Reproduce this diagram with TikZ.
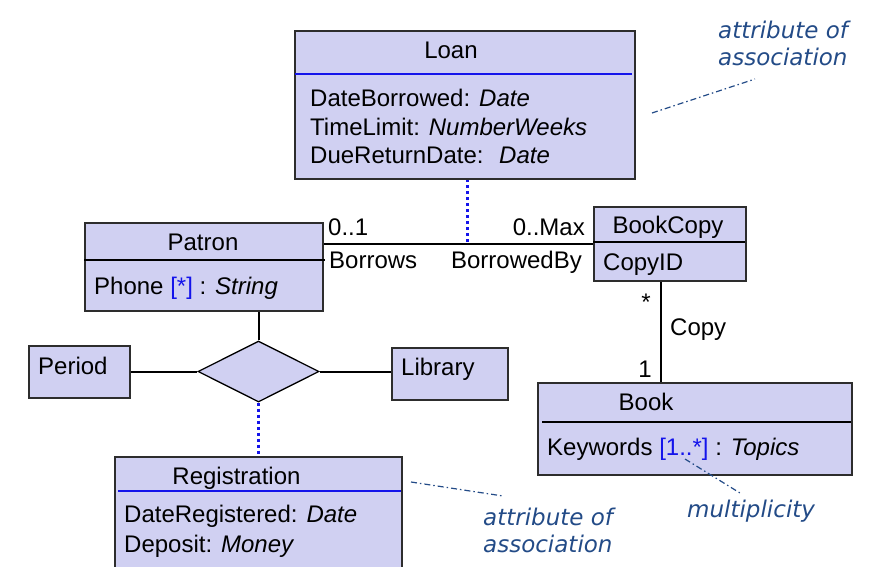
\documentclass[tikz,border=0pt]{standalone}
\usepackage{fontspec}
\setmainfont{Liberation Sans}
\newfontfamily\annfont{DejaVu Sans}
\usetikzlibrary{shapes.geometric}
\definecolor{boxfill}{RGB}{208,208,242}
\definecolor{boxline}{RGB}{45,45,45}
\definecolor{sepblue}{RGB}{20,20,235}
\definecolor{annblue}{RGB}{35,75,135}
\begin{document}
\begin{tikzpicture}[x=1pt,y=-1pt,
  box/.style={draw=boxline, line width=2pt, fill=boxfill, anchor=north west, inner sep=0pt},
  txt/.style={font=\fontsize{24}{29}\selectfont, inner sep=0pt},
  sep/.style={line width=2pt},
  conn/.style={line width=2pt, black},
  dots/.style={line width=3pt, sepblue, dash pattern=on 3pt off 3pt},
  ann/.style={font=\annfont\itshape\fontsize{23}{27}\selectfont, text=annblue, inner sep=0pt},
  annline/.style={annblue, line width=1.2pt, dash pattern=on 6pt off 3pt on 1.5pt off 3pt}]
\useasboundingbox (0,0) rectangle (880,566);
\clip (0,0) rectangle (880,566);

% boxes
\node[box, minimum width=340pt, minimum height=148pt] (loan) at (294,30) {};
\node[box, minimum width=238pt, minimum height=88pt] (patron) at (84,222) {};
\node[box, minimum width=152pt, minimum height=74pt] (bookcopy) at (593,206) {};
\node[box, minimum width=314pt, minimum height=92pt] (book) at (537,382) {};
\node[box, minimum width=101pt, minimum height=52pt] (period) at (28,345) {};
\node[box, minimum width=116pt, minimum height=52pt] (library) at (391,347) {};
\node[box, minimum width=287pt, minimum height=130pt] (reg) at (114,456) {};
\node[draw=black, line width=1.3pt, fill=boxfill, diamond, minimum width=121pt, minimum height=61pt, inner sep=0pt] (assoc) at (258.5,371.5) {};

% separators
\draw[sep, sepblue] (295,74) -- (632,74);
\draw[sep, black] (84,260) -- (325,260);
\draw[sep, black] (593,242) -- (745,242);
\draw[sep, black] (542,422) -- (851,422);
\draw[sep, sepblue] (118,491) -- (401,491);

% texts
\node[txt, anchor=base] (loanT) at (451,58.5) {Loan};
\node[txt, anchor=base west] (loanA1) at (310,106.5) {DateBorrowed: \textit{Date}};
\node[txt, anchor=base west] (loanA2) at (310,135) {TimeLimit: \textit{NumberWeeks}};
\node[txt, anchor=base west] (loanA3) at (310,163.5) {DueReturnDate:~ \textit{Date}};

\node[txt, anchor=base] (patronT) at (203,250) {Patron};
\node[txt, anchor=base west] (patronA) at (94,294) {Phone {\color{sepblue}[*]} : \textit{String}};

\node[txt, anchor=base] (bookcopyT) at (668,233) {BookCopy};
\node[txt, anchor=base west] (bookcopyA) at (603,270) {CopyID};

\node[txt, anchor=base] (bookT) at (646,410) {Book};
\node[txt, anchor=base west] (bookA) at (547,455) {Keywords {\color{sepblue}[1..*]} : \textit{Topics}};

\node[txt, anchor=base west] (periodT) at (38,374) {Period};
\node[txt, anchor=base west] (libraryT) at (401,375) {Library};

\node[txt, anchor=base] (regT) at (236.5,484) {Registration};
\node[txt, anchor=base west] (regA1) at (124,522) {DateRegistered: \textit{Date}};
\node[txt, anchor=base west] (regA2) at (124,552) {Deposit: \textit{Money}};

% association labels
\node[txt, anchor=base west] (m1) at (328,235) {0..1};
\node[txt, anchor=base west] (r1) at (329,268) {Borrows};
\node[txt, anchor=base east] (m2) at (585,235) {0..Max};
\node[txt, anchor=base east] (r2) at (582,268) {BorrowedBy};
\node[txt, anchor=base] (m3) at (646,310) {*};
\node[txt, anchor=base west] (r3) at (670,335) {Copy};
\node[txt, anchor=base] (m4) at (645,377) {1};

% connectors
\draw[conn] (bookcopy.west) -- (bookcopy.west -| patron.east);
\coordinate (lj) at (467,242);
\draw[dots] (lj) -- (lj |- loan.south);
\coordinate (cj) at (660.5,300);
\draw[conn] (cj |- bookcopy.south) -- (cj |- book.north);
\draw[conn] (assoc.north) -- (assoc.north |- patron.south);
\draw[conn] (assoc.west) -- (assoc.west -| period.east);
\draw[conn] (assoc.east) -- (assoc.east -| library.west);
\draw[dots] (assoc.south) -- (assoc.south |- reg.north);

% annotations
\node[ann, anchor=base west] (ann1a) at (718,38) {attribute of};
\node[ann, anchor=base west] (ann1b) at (718,65) {association};
\coordinate (a1s) at (652,113);
\coordinate (a1e) at (755,79);
\draw[annline] (a1s) -- (a1e);

\node[ann, anchor=base west] (ann2a) at (483,525) {attribute of};
\node[ann, anchor=base west] (ann2b) at (483,552) {association};
\coordinate (a2s) at (411,482);
\coordinate (a2e) at (503,496);
\draw[annline] (a2s) -- (a2e);

\node[ann, anchor=base west] (ann3) at (687,517) {multiplicity};
\coordinate (a3s) at (685,459);
\coordinate (a3e) at (740,493);
\draw[annline] (a3s) -- (a3e);
\end{tikzpicture}
\end{document}
